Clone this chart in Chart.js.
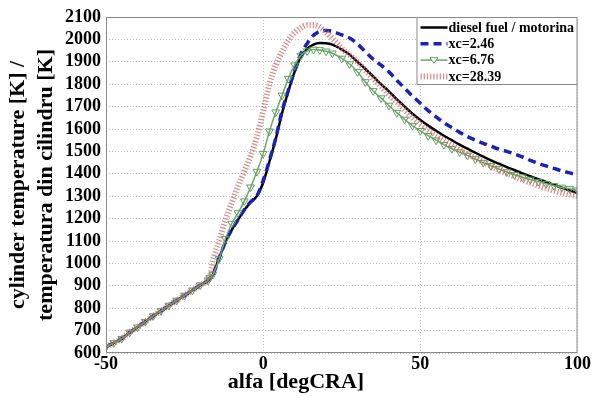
<!DOCTYPE html>
<html lang="en">
<head>
    <meta charset="UTF-8">
    <title>Cylinder temperature</title>
    <script src="https://cdn.jsdelivr.net/npm/chart.js"></script>
    <style>
        html, body { margin: 0; padding: 0; background: #fff; }
        #wrap { width: 592px; height: 396px; }
    </style>
</head>
<body>
    <div id="wrap"><canvas id="tempChart" width="592" height="396"></canvas></div>

    <script>
        // crank angle [degCRA]
        const angles = [
            -50, -47.5, -45, -42.5, -40, -37.5, -35, -32.5, -30, -27.5, -25, -22.5, -20, -17.5, -17,
            -16, -14, -12, -10, -8, -6, -4, -2, 0, 2, 4, 6, 8, 10, 12, 14, 16, 18, 20, 22,
            25, 27.5, 30, 32.5, 35, 37.5, 40, 42.5, 45, 47.5, 50, 52.5, 55, 57.5, 60, 62.5,
            65, 67.5, 70, 72.5, 75, 77.5, 80, 82.5, 85, 87.5, 90, 92.5, 95, 97.5, 100
        ];

        // compression part, same for all fuels
        const compression = [628, 645, 664, 692, 715, 740, 765, 788, 812, 835, 857, 880, 903, 925, 935];

        const dieselRise = [950, 1025, 1095, 1150, 1195, 1238, 1272, 1300, 1360, 1455, 1555, 1670, 1768, 1855, 1922, 1958, 1977, 1984, 1983, 1977];
        const dieselTail = [1955, 1932, 1900, 1868, 1835, 1800, 1768, 1733, 1700, 1668, 1640, 1615, 1592, 1570, 1550, 1530,
                            1512, 1494, 1477, 1460, 1445, 1430, 1416, 1402, 1389, 1376, 1364, 1351, 1338, 1326, 1314];

        const xc246Rise = [950, 1025, 1095, 1150, 1195, 1240, 1275, 1302, 1370, 1460, 1560, 1680, 1772, 1860, 1935, 1982, 2018, 2036, 2040, 2036];
        const xc246Tail = [2020, 2006, 1980, 1945, 1912, 1885, 1855, 1818, 1782, 1747, 1715, 1682, 1654, 1628, 1606, 1585,
                           1566, 1550, 1536, 1523, 1510, 1500, 1488, 1475, 1460, 1447, 1435, 1424, 1413, 1404, 1396];

        const xc676Rise = [950, 1020, 1110, 1178, 1225, 1278, 1340, 1410, 1490, 1590, 1675, 1750, 1825, 1885, 1928, 1948, 1955, 1953, 1947, 1938];
        const xc676Tail = [1915, 1890, 1855, 1810, 1770, 1738, 1705, 1673, 1643, 1615, 1592, 1570, 1550, 1530, 1512, 1497,
                           1482, 1466, 1450, 1436, 1422, 1408, 1396, 1385, 1375, 1365, 1355, 1347, 1339, 1333, 1327];

        const xc2839Rise = [1010, 1100, 1195, 1272, 1345, 1410, 1480, 1565, 1680, 1800, 1885, 1945, 1995, 2030, 2052, 2064, 2064, 2055, 2032, 2005];
        const xc2839Tail = [1960, 1930, 1900, 1862, 1825, 1790, 1752, 1720, 1685, 1652, 1622, 1596, 1572, 1548, 1527, 1507,
                            1488, 1470, 1452, 1435, 1418, 1402, 1388, 1374, 1360, 1347, 1336, 1325, 1316, 1307, 1300];

        const seriesNames = ['diesel fuel / motorina', 'xc=2.46', 'xc=6.76', 'xc=28.39'];

        function toPoints(rise, tail) {
            const temps = compression.concat(rise, tail);
            return angles.map((a, i) => ({ x: a, y: temps[i] }));
        }

        const serif = "'Liberation Serif', 'Times New Roman', serif";

        // frame around the plot area
        const frame = {
            id: 'frame',
            afterDatasetsDraw(chart) {
                const { ctx, chartArea: a } = chart;
                ctx.save();
                ctx.strokeStyle = '#8a8a8a';
                ctx.lineWidth = 1;
                ctx.strokeRect(a.left + 0.5, a.top + 0.5, a.right - a.left - 1, a.bottom - a.top - 1);
                ctx.restore();
            }
        };

        // matlab style legend in the top right corner
        const boxLegend = {
            id: 'boxLegend',
            afterDraw(chart) {
                const { ctx, chartArea: a } = chart;
                const w = 161, h = 68;
                const x0 = a.right - w, y0 = a.top;
                ctx.save();
                ctx.fillStyle = '#fff';
                ctx.fillRect(x0, y0, w, h);
                ctx.strokeStyle = '#8a8a8a';
                ctx.lineWidth = 1;
                ctx.strokeRect(x0 + 0.5, y0 + 0.5, w - 1, h - 1);
                chart.data.datasets.forEach((ds, i) => {
                    const y = y0 + 10.5 + i * 16.3;
                    ctx.save();
                    ctx.strokeStyle = ds.borderColor;
                    ctx.lineWidth = ds.borderWidth;
                    ctx.setLineDash(ds.borderDash || []);
                    ctx.beginPath();
                    ctx.moveTo(x0 + 4, y);
                    ctx.lineTo(x0 + 31, y);
                    ctx.stroke();
                    ctx.setLineDash([]);
                    if (ds.pointRadius > 0) {
                        ctx.lineWidth = 1;
                        ctx.strokeStyle = ds.pointBorderColor;
                        ctx.fillStyle = '#fff';
                        const cx = x0 + 17.5, r = 4;
                        ctx.beginPath();
                        ctx.moveTo(cx - r, y - r * 0.6);
                        ctx.lineTo(cx + r, y - r * 0.6);
                        ctx.lineTo(cx, y + r * 0.8);
                        ctx.closePath();
                        ctx.fill();
                        ctx.stroke();
                    }
                    ctx.restore();
                    ctx.fillStyle = '#000';
                    ctx.font = 'bold 14px ' + serif;
                    ctx.textBaseline = 'middle';
                    ctx.fillText(seriesNames[i], x0 + 32, y + 0.5);
                });
                ctx.restore();
            }
        };

        const ctx = document.getElementById('tempChart').getContext('2d');
        const chart = new Chart(ctx, {
            type: 'line',
            data: {
                datasets: [{
                    label: seriesNames[0],
                    data: toPoints(dieselRise, dieselTail),
                    borderColor: '#000000',
                    borderWidth: 2.5,
                    pointRadius: 0,
                    order: 3
                }, {
                    label: seriesNames[1],
                    data: toPoints(xc246Rise, xc246Tail),
                    borderColor: '#1c22b4',
                    borderWidth: 3.5,
                    borderDash: [8, 5],
                    pointRadius: 0,
                    order: 2
                }, {
                    label: seriesNames[2],
                    data: toPoints(xc676Rise, xc676Tail),
                    borderColor: '#6aa86a',
                    borderWidth: 1.5,
                    pointStyle: 'triangle',
                    rotation: 180,
                    pointRadius: 4.5,
                    pointBorderWidth: 1,
                    pointBorderColor: '#5e9f5e',
                    pointBackgroundColor: 'rgba(255,255,255,0)',
                    order: 1
                }, {
                    label: seriesNames[3],
                    data: toPoints(xc2839Rise, xc2839Tail),
                    borderColor: 'rgba(205,105,105,0.8)',
                    borderWidth: 6,
                    borderDash: [1.2, 2],
                    borderCapStyle: 'butt',
                    pointRadius: 0,
                    order: 0
                }]
            },
            options: {
                responsive: false,
                animation: false,
                cubicInterpolationMode: 'monotone',
                layout: { padding: { top: 17, right: 0, left: 0, bottom: 0 } },
                plugins: {
                    legend: { display: false },
                    tooltip: { enabled: false },
                    // x axis label, centred on the whole figure like the original
                    title: {
                        display: true,
                        position: 'bottom',
                        text: 'alfa [degCRA]',
                        color: '#000',
                        padding: { top: 0, bottom: 3 },
                        font: { family: serif, size: 22, weight: 'bold', lineHeight: 1 }
                    }
                },
                scales: {
                    x: {
                        type: 'linear',
                        min: -50,
                        max: 100,
                        afterFit(scale) { scale.height = 18; },
                        ticks: {
                            stepSize: 50,
                            padding: 1,
                            color: '#000',
                            callback: v => String(v),
                            font: { family: serif, size: 18, weight: 'bold' }
                        },
                        grid: { color: '#c4c4c4', lineWidth: 1, drawTicks: false },
                        border: { display: false, dash: [1, 2] }
                    },
                    y: {
                        min: 600,
                        max: 2100,
                        afterFit(scale) { scale.width = 106; },
                        ticks: {
                            stepSize: 100,
                            autoSkip: false,
                            padding: 5,
                            color: '#000',
                            callback: v => String(v),
                            font: { family: serif, size: 18, weight: 'bold' }
                        },
                        grid: { color: '#c4c4c4', lineWidth: 1, drawTicks: false },
                        border: { display: false, dash: [1, 2] },
                        title: {
                            display: true,
                            text: ['cylinder temperature [K] /', 'temperatura din cilindru [K]'],
                            color: '#000',
                            padding: { top: 4, bottom: 0 },
                            font: { family: serif, size: 22, weight: 'bold', lineHeight: 1.27 }
                        }
                    }
                }
            },
            plugins: [frame, boxLegend]
        });
    </script>
</body>
</html>
